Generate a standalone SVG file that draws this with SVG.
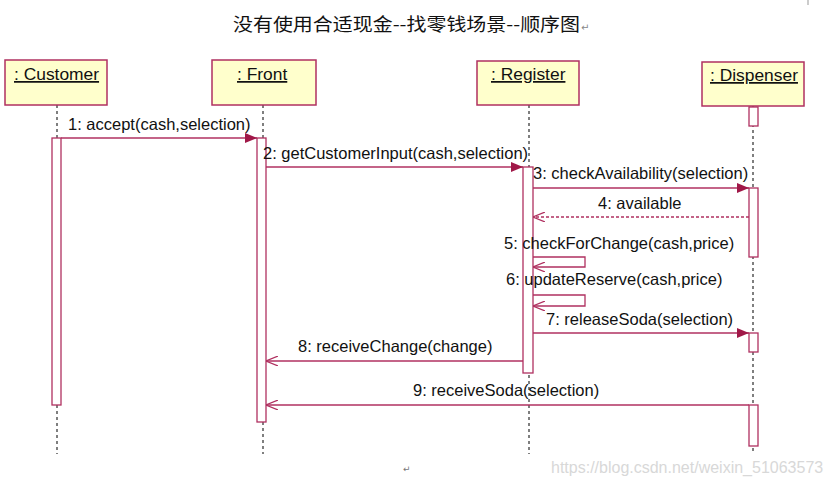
<svg xmlns="http://www.w3.org/2000/svg" width="832" height="485" viewBox="0 0 832 485">
<defs>
<style>
.box{fill:#ffffcc;stroke:#b03060;stroke-width:1.5}
.act{fill:#ffffff;stroke:#b03060;stroke-width:1.3}
.life{stroke:#555;stroke-width:1.5;stroke-dasharray:3,3;fill:none}
.msg{stroke:#b03060;stroke-width:1.3;fill:none}
.ret{stroke:#b03060;stroke-width:1.3;fill:none;stroke-dasharray:3,2}
.lbl{font-family:"Liberation Sans",Arial,sans-serif;font-size:16.5px;fill:#111}
.obj{font-family:"Liberation Sans",Arial,sans-serif;font-size:17.4px;fill:#111;text-decoration:underline}
</style>
<marker id="fill" viewBox="0 0 12 10" refX="12" refY="5" markerWidth="12" markerHeight="10" markerUnits="userSpaceOnUse" orient="auto">
<path d="M0,0 L12,5 L0,10 Z" fill="#a01848"/>
</marker>
<marker id="open" viewBox="0 0 12 10" refX="12" refY="5" markerWidth="12" markerHeight="10" markerUnits="userSpaceOnUse" orient="auto">
<path d="M0,0 L12,5 L0,10" fill="none" stroke="#b03060" stroke-width="1.2"/>
</marker>
</defs>
<rect width="832" height="485" fill="#ffffff"/>
<text x="233" y="31" font-family="'Noto Sans CJK SC',sans-serif" font-size="18" fill="#111" textLength="347" lengthAdjust="spacingAndGlyphs">没有使用合适现金--找零钱场景--顺序图</text>
<text x="581" y="31" font-family="'DejaVu Sans',sans-serif" font-size="10" fill="#888">↵</text>
<line x1="808" y1="0" x2="808" y2="5" stroke="#999" stroke-width="1"/>

<g id="lifelines">
<line class="life" x1="57" y1="105" x2="57" y2="138"/>
<line class="life" x1="57" y1="405" x2="57" y2="454"/>
<line class="life" x1="263" y1="105" x2="263" y2="138"/>
<line class="life" x1="263" y1="422" x2="263" y2="454"/>
<line class="life" x1="529" y1="105" x2="529" y2="454"/>
<line class="life" x1="753" y1="106" x2="753" y2="454"/>
</g>

<g id="customer">
<rect class="box" x="5" y="60" width="102" height="45"/>
<text class="obj" x="14" y="80">: Customer</text>
<rect class="act" x="52" y="138" width="9" height="267"/>
</g>
<g id="front">
<rect class="box" x="212" y="60" width="104" height="45"/>
<text class="obj" x="237" y="80">: Front</text>
<rect class="act" x="257" y="138" width="9" height="284"/>
</g>
<g id="register">
<rect class="box" x="477" y="61" width="102" height="44"/>
<text class="obj" x="491" y="80">: Register</text>
<rect class="act" x="523" y="167" width="10" height="206"/>
</g>
<g id="dispenser">
<rect class="box" x="702" y="62" width="102" height="44"/>
<text class="obj" x="710" y="81">: Dispenser</text>
<rect class="act" x="749" y="107" width="9" height="19"/>
<rect class="act" x="749" y="188" width="9" height="69"/>
<rect class="act" x="749" y="333" width="9" height="19"/>
<rect class="act" x="749" y="405" width="9" height="41"/>
</g>

<g id="connectors">
<line class="msg" x1="61" y1="138" x2="257" y2="138" marker-end="url(#fill)"/>
<text class="lbl" x="68" y="130">1: accept(cash,selection)</text>
<line class="msg" x1="266" y1="167" x2="523" y2="167" marker-end="url(#fill)"/>
<text class="lbl" x="263" y="159">2: getCustomerInput(cash,selection)</text>
<line class="msg" x1="533" y1="188" x2="749" y2="188" marker-end="url(#fill)"/>
<text class="lbl" x="533" y="179">3: checkAvailability(selection)</text>
<line class="ret" x1="749" y1="217" x2="533" y2="217" marker-end="url(#open)"/>
<text class="lbl" x="598" y="209">4: available</text>
<polyline class="msg" points="533,257 585,257 585,267 533,267" marker-end="url(#open)"/>
<text class="lbl" x="504" y="249">5: checkForChange(cash,price)</text>
<polyline class="msg" points="533,295 585,295 585,306 533,306" marker-end="url(#open)"/>
<text class="lbl" x="506" y="285">6: updateReserve(cash,price)</text>
<line class="msg" x1="533" y1="333" x2="749" y2="333" marker-end="url(#fill)"/>
<text class="lbl" x="546" y="325">7: releaseSoda(selection)</text>
<line class="msg" x1="523" y1="361" x2="266" y2="361" marker-end="url(#open)"/>
<text class="lbl" x="298" y="352">8: receiveChange(change)</text>
<line class="msg" x1="749" y1="405" x2="266" y2="405" marker-end="url(#open)"/>
<text class="lbl" x="413" y="396">9: receiveSoda(selection)</text>
</g>

<text x="403" y="472" font-family="'DejaVu Sans',sans-serif" font-size="9" fill="#777">↵</text>
<text x="551" y="473" font-family="'Liberation Sans',Arial,sans-serif" font-size="16" fill="#d8d8d8">https://blog.csdn.net/weixin_51063573</text>
</svg>
